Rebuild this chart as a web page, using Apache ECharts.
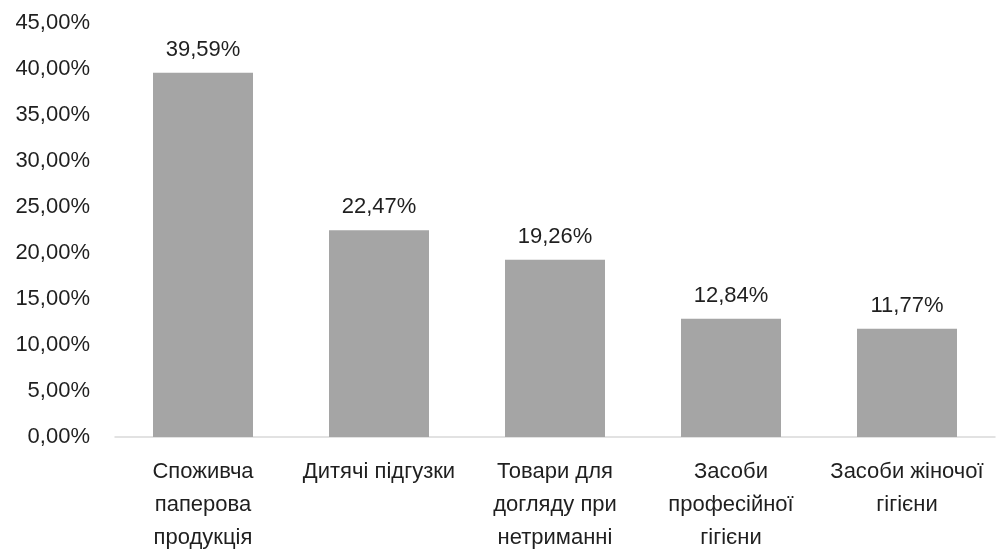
<!DOCTYPE html>
<html>
<head>
<meta charset="utf-8">
<script src="https://cdn.jsdelivr.net/npm/echarts@6/dist/echarts.min.js"></script>
<style>
  html, body { margin: 0; padding: 0; background: #fff; }
  #chart { width: 996px; height: 549px; }
</style>
</head>
<body>
<div id="chart"></div>
<script>
// Product categories (line breaks as shown under the axis)
const categories = [
  'Споживча\nпаперова\nпродукція',
  'Дитячі підгузки',
  'Товари для\nдогляду при\nнетриманні',
  'Засоби\nпрофесійної\nгігієни',
  'Засоби жіночої\nгігієни'
];
// Market share, percent
const shares = [39.59, 22.47, 19.26, 12.84, 11.77];

const fmt = v => v.toFixed(2).replace('.', ',') + '%';
const FONT = 'Liberation Sans';

const chart = echarts.init(document.getElementById('chart'));
chart.setOption({
  animation: false,
  grid: { left: 115, right: 1, top: 23, bottom: 112, outerBoundsMode: 'none', containLabel: false },
  xAxis: {
    type: 'category',
    data: categories,
    axisLine: { lineStyle: { color: '#d9d9d9', width: 1.5 } },
    axisTick: { show: false },
    axisLabel: {
      interval: 0,
      margin: 18,
      color: '#1f1f1f',
      fontFamily: FONT,
      fontSize: 22,
      lineHeight: 33,
      align: 'center'
    }
  },
  yAxis: {
    type: 'value',
    min: 0,
    max: 45,
    interval: 5,
    splitLine: { show: false },
    axisLine: { show: false },
    axisTick: { show: false },
    axisLabel: {
      margin: 25,
      color: '#1f1f1f',
      fontFamily: FONT,
      fontSize: 22,
      formatter: v => fmt(v)
    }
  },
  series: [{
    type: 'bar',
    data: shares,
    barWidth: 100,
    itemStyle: { color: '#a5a5a5' },
    label: {
      show: true,
      position: 'top',
      distance: 12,
      color: '#1f1f1f',
      fontFamily: FONT,
      fontSize: 22,
      formatter: p => fmt(p.value)
    }
  }]
});
</script>
</body>
</html>
